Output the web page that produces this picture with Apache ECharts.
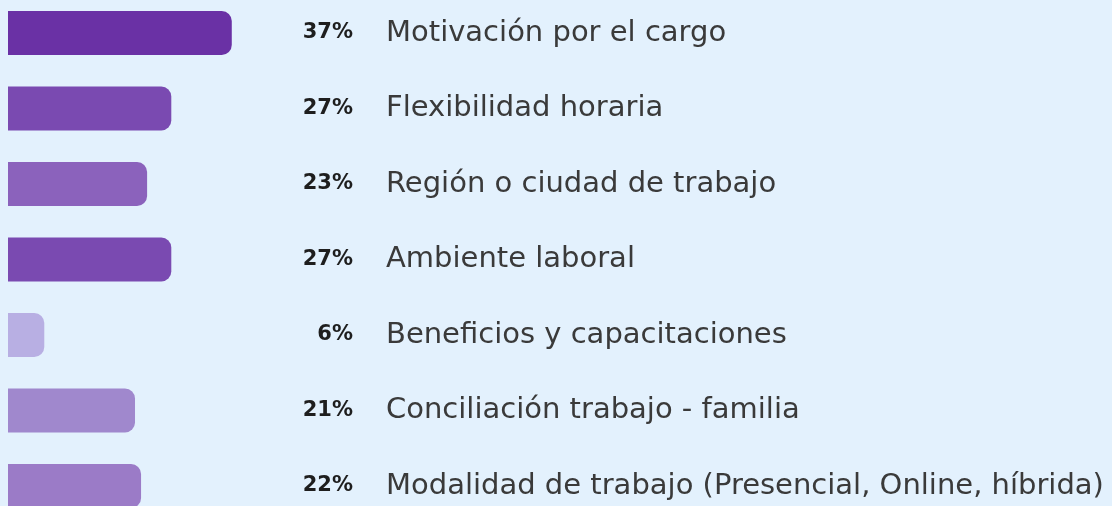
<!DOCTYPE html>
<html>
<head>
<meta charset="utf-8">
<script src="https://cdn.jsdelivr.net/npm/echarts@6/dist/echarts.min.js"></script>
<style>
  html, body { margin: 0; padding: 0; background: #e3f1fd; }
  #chart { width: 1112px; height: 506px; }
</style>
</head>
<body>
<div id="chart"></div>
<script>
// categories and values
const categories = [
  'Motivación por el cargo',
  'Flexibilidad horaria',
  'Región o ciudad de trabajo',
  'Ambiente laboral',
  'Beneficios y capacitaciones',
  'Conciliación trabajo - familia',
  'Modalidad de trabajo (Presencial, Online, híbrida)'
]
const percents = [37, 27, 23, 27, 6, 21, 22]
const barColors = ['#6a31a5', '#7a4ab1', '#8b62bc', '#7a4ab1', '#b8afe3', '#a088cd', '#9b7bc7']

let myChart = echarts.init(document.getElementById('chart'))
myChart.setOption({
  backgroundColor: '#e3f1fd',
  animation: false,
  grid: {
    left: 8,
    right: 726,
    top: -4.75,
    height: 528.5,
    containLabel: false,
    outerBoundsMode: 'none'
  },
  xAxis: {
    type: 'value',
    min: 0,
    max: 62.5,
    show: false
  },
  yAxis: {
    type: 'category',
    data: categories,
    inverse: true,
    position: 'right',
    axisLine: { show: false },
    axisTick: { show: false },
    splitLine: { show: false },
    axisLabel: {
      margin: 0,
      align: 'left',
      color: '#3a3a3a',
      fontSize: 29,
      fontFamily: 'DejaVu Sans'
    }
  },
  series: [
    {
      type: 'bar',
      barWidth: 44,
      data: percents.map((v, i) => ({
        value: v,
        itemStyle: { color: barColors[i] }
      })),
      itemStyle: {
        borderRadius: [0, 10, 10, 0]
      },
      label: {
        show: true,
        position: [345, '50%'],
        align: 'right',
        verticalAlign: 'middle',
        formatter: '{c}%',
        color: '#1e1e1e',
        fontWeight: 'bold',
        fontSize: 21,
        fontFamily: 'DejaVu Sans'
      }
    }
  ]
})
</script>
</body>
</html>
